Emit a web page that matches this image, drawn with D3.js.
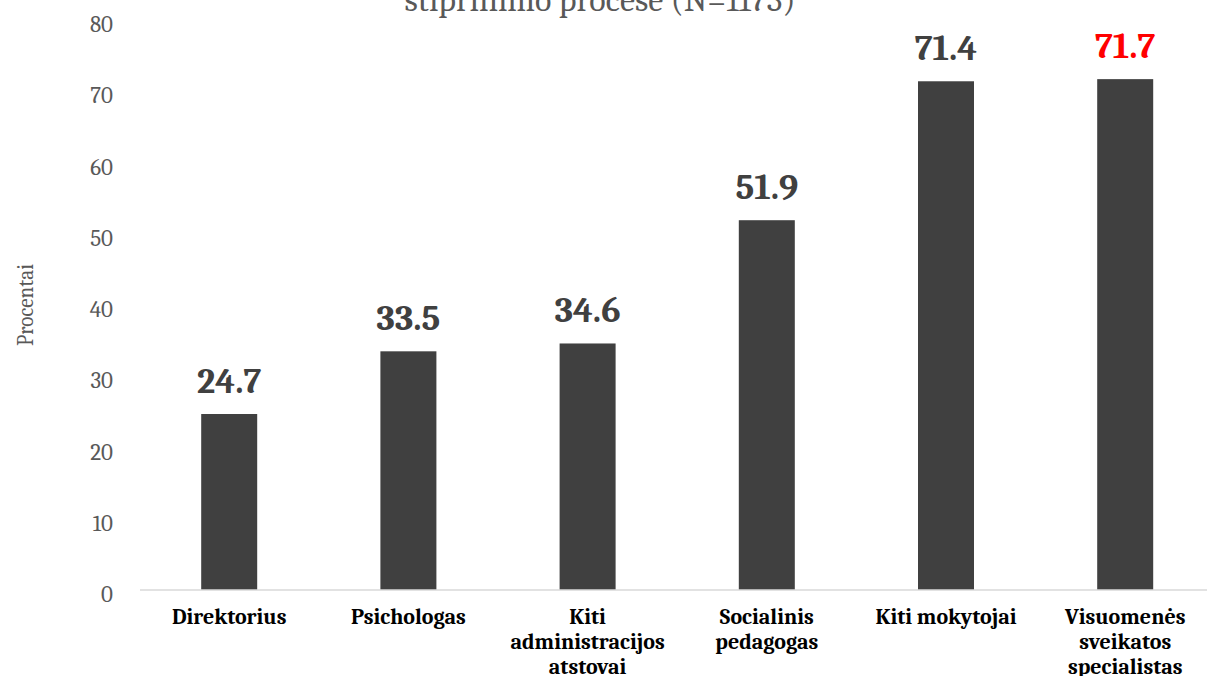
<!DOCTYPE html>
<html>
<head>
<meta charset="utf-8">
<script src="https://cdn.jsdelivr.net/npm/d3@7"></script>
<style>
  html, body { margin: 0; padding: 0; background: #fff; overflow: hidden; }
  svg { display: block; }
</style>
</head>
<body>
<svg id="chart" width="1207" height="676"></svg>
<script>
// Categories (each label broken into display lines) and their percentages
const categories = [
  "Direktorius",
  "Psichologas",
  "Kiti administracijos atstovai",
  "Socialinis pedagogas",
  "Kiti mokytojai",
  "Visuomenės sveikatos specialistas"
];
const categoryLines = [
  ["Direktorius"],
  ["Psichologas"],
  ["Kiti", "administracijos", "atstovai"],
  ["Socialinis", "pedagogas"],
  ["Kiti mokytojai"],
  ["Visuomenės", "sveikatos", "specialistas"]
];
const values = [24.7, 33.5, 34.6, 51.9, 71.4, 71.7];
const yTicks = [0, 10, 20, 30, 40, 50, 60, 70, 80];
const titleText = "stiprinimo procese (N=1173)";
const yAxisTitle = "Procentai";
const highlighted = "Visuomenės sveikatos specialistas";

const svg = d3.select("#chart");
const serif = "Cambria, Caladea, 'Liberation Serif', 'DejaVu Serif', serif";

const x = d3.scaleBand()
  .domain(categories)
  .range([139.6, 1214.8])
  .paddingInner(0.6875)
  .paddingOuter(0.34375);

const y = d3.scaleLinear()
  .domain([0, 80])
  .range([590, 20]);

// Title (only its last line falls inside the frame)
svg.append("text")
  .attr("x", 600)
  .attr("y", 11)
  .attr("text-anchor", "middle")
  .attr("font-family", serif)
  .attr("font-size", 34)
  .attr("fill", "#595959")
  .text(titleText);

// Y axis tick labels (no axis line, no tick marks)
const yAxis = d3.axisLeft(y).tickValues(yTicks).tickSize(0).tickPadding(0);
const yg = svg.append("g")
  .attr("transform", "translate(113,0)")
  .call(yAxis);
yg.select(".domain").remove();
yg.selectAll("text")
  .attr("font-family", serif)
  .attr("font-size", 23)
  .attr("fill", "#595959")
  .attr("dy", "0.5em");

// Y axis title
svg.append("text")
  .attr("transform", "translate(33,305) rotate(-90)")
  .attr("text-anchor", "middle")
  .attr("font-family", serif)
  .attr("font-size", 23)
  .attr("fill", "#595959")
  .attr("textLength", 82)
  .attr("lengthAdjust", "spacingAndGlyphs")
  .text(yAxisTitle);

// Bars
svg.append("g")
  .selectAll("rect")
  .data(values)
  .join("rect")
  .attr("x", (d, i) => x(categories[i]))
  .attr("width", x.bandwidth())
  .attr("y", d => y(d))
  .attr("height", d => y(0) - y(d))
  .attr("fill", "#404040");

// Baseline
const xAxis = d3.axisBottom(x).tickSize(0).tickFormat("");
const xg = svg.append("g")
  .attr("transform", `translate(0,${y(0)})`)
  .call(xAxis);
xg.select(".domain")
  .attr("stroke", "#d9d9d9")
  .attr("stroke-width", 1.5)
  .attr("d", `M140,0H1207`);

// Value labels
svg.append("g")
  .selectAll("text")
  .data(values)
  .join("text")
  .attr("x", (d, i) => x(categories[i]) + x.bandwidth() / 2)
  .attr("y", d => y(d) - 21)
  .attr("text-anchor", "middle")
  .attr("font-family", serif)
  .attr("font-weight", "bold")
  .attr("font-size", 36)
  .attr("fill", (d, i) => categories[i] === highlighted ? "#ff0000" : "#404040")
  .text(d => d.toFixed(1));

// Category labels
const catG = svg.append("g")
  .selectAll("text")
  .data(categories)
  .join("text")
  .attr("x", d => x(d) + x.bandwidth() / 2)
  .attr("y", 624)
  .attr("text-anchor", "middle")
  .attr("font-family", serif)
  .attr("font-weight", "bold")
  .attr("font-size", 22)
  .attr("fill", "#000");
catG.each(function(d, i) {
  d3.select(this).selectAll("tspan")
    .data(categoryLines[i])
    .join("tspan")
    .attr("x", x(d) + x.bandwidth() / 2)
    .attr("dy", (t, j) => j === 0 ? 0 : 25)
    .text(t => t);
});
</script>
</body>
</html>
